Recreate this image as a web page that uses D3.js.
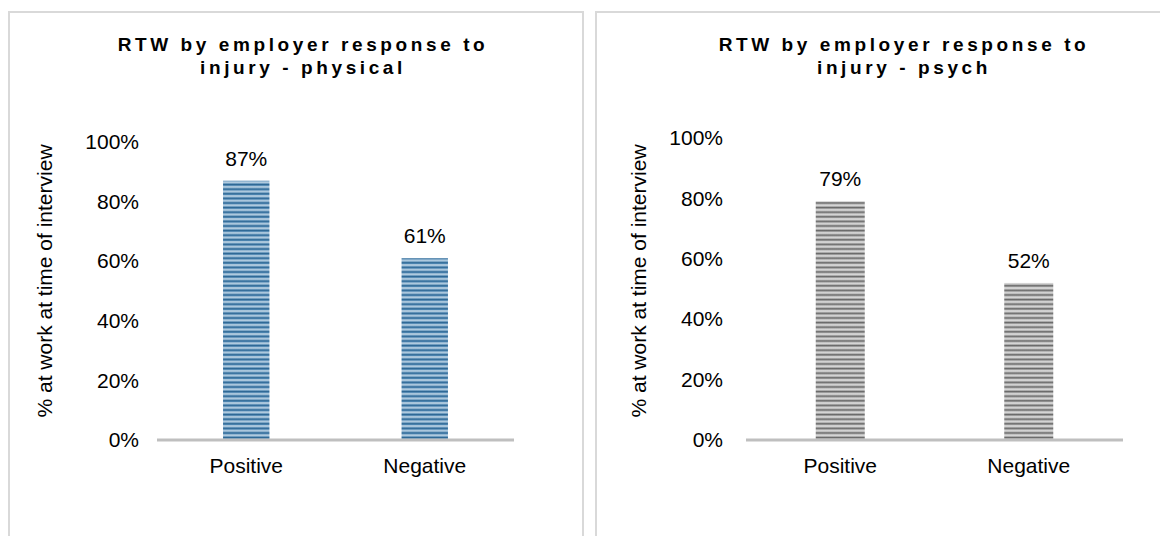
<!DOCTYPE html>
<html>
<head>
<meta charset="utf-8">
<script src="https://cdn.jsdelivr.net/npm/d3@7"></script>
<style>
  html, body { margin: 0; padding: 0; background: #ffffff; }
  svg { display: block; font-family: "Liberation Sans", Arial, sans-serif; }
</style>
</head>
<body>
<svg id="chart" width="1160" height="536"></svg>
<script>
// ---- data ----
const categories = ["Positive", "Negative"];
const physicalValues = [87, 61];
const psychValues = [79, 52];
const yTicks = [0, 20, 40, 60, 80, 100];
const titlePhysical = ["RTW by employer response to", "injury - physical"];
const titlePsych = ["RTW by employer response to", "injury - psych"];
const yAxisTitle = "% at work at time of interview";

const svg = d3.select("#chart");
const defs = svg.append("defs");

function makeStripe(id, dark, mid, light) {
  const gid = id + "Grad";
  const grad = defs.append("linearGradient").attr("id", gid)
    .attr("x1", 0).attr("y1", 0).attr("x2", 0).attr("y2", 1);
  grad.append("stop").attr("offset", "0").attr("stop-color", dark);
  grad.append("stop").attr("offset", "0.3").attr("stop-color", mid);
  grad.append("stop").attr("offset", "0.6").attr("stop-color", light);
  grad.append("stop").attr("offset", "1").attr("stop-color", mid);
  const p = defs.append("pattern").attr("id", id)
    .attr("patternUnits", "userSpaceOnUse").attr("width", 20).attr("height", 4.6);
  p.append("rect").attr("width", 20).attr("height", 4.6).attr("fill", `url(#${gid})`);
}
makeStripe("stripeBlue", "#1f5a87", "#4c84b0", "#d3e3ef");
makeStripe("stripeGray", "#555555", "#939393", "#ececec");

// panels
svg.append("rect").attr("x", 9).attr("y", 12).attr("width", 574).attr("height", 600)
  .attr("fill", "#fff").attr("stroke", "#d9d9d9").attr("stroke-width", 2);
svg.append("rect").attr("x", 596).attr("y", 12).attr("width", 600).attr("height", 600)
  .attr("fill", "#fff").attr("stroke", "#d9d9d9").attr("stroke-width", 2);

function drawChart(o) {
  const g = svg.append("g");
  const x = d3.scaleBand().domain(categories).range([o.x0, o.x1])
    .paddingInner(0.74).paddingOuter(0.37);
  const y = d3.scaleLinear().domain([0, 100]).range([o.yBase, o.yTop]);

  // title
  const t = g.append("text").attr("x", o.titleX).attr("y", 51)
    .attr("text-anchor", "middle").attr("font-weight", "bold")
    .attr("font-size", 19).attr("letter-spacing", "3.6px").attr("fill", "#000");
  o.title.forEach((line, i) => {
    t.append("tspan").attr("x", o.titleX).attr("dy", i === 0 ? 0 : 23).text(line);
  });

  // y axis (labels only)
  const yAxis = d3.axisLeft(y).tickValues(yTicks).tickFormat(d => d + "%").tickSize(0).tickPadding(0);
  const ya = g.append("g").attr("transform", `translate(${o.tickRight},0)`).call(yAxis);
  ya.select(".domain").remove();
  ya.selectAll("text").attr("font-size", 21).attr("fill", "#000")
    .attr("font-family", "Liberation Sans, Arial, sans-serif");

  // y axis title
  g.append("text").attr("transform", `translate(${o.yTitleX},${o.yTitleY}) rotate(-90)`)
    .attr("text-anchor", "middle").attr("dominant-baseline", "middle")
    .attr("font-size", 21).attr("fill", "#000").text(yAxisTitle);

  // bars
  g.selectAll("rect.bar").data(o.values).join("rect").attr("class", "bar")
    .attr("x", (d, i) => x(categories[i])).attr("width", x.bandwidth())
    .attr("y", d => y(d)).attr("height", d => y(0) - y(d))
    .attr("fill", `url(#${o.pattern})`);

  // value labels
  g.selectAll("text.val").data(o.values).join("text").attr("class", "val")
    .attr("x", (d, i) => x(categories[i]) + x.bandwidth() / 2)
    .attr("y", d => y(d) - 15).attr("text-anchor", "middle")
    .attr("font-size", 21).attr("fill", "#000").text(d => d + "%");

  // x axis baseline + labels
  const xAxis = d3.axisBottom(x).tickSize(0).tickPadding(18);
  const xa = g.append("g").attr("transform", `translate(0,${o.yBase})`).call(xAxis);
  xa.select(".domain").attr("stroke", "#bfbfbf").attr("stroke-width", 3)
    .attr("d", `M${o.x0},0H${o.x1}`);
  xa.selectAll("text").attr("font-size", 21).attr("fill", "#000")
    .attr("font-family", "Liberation Sans, Arial, sans-serif");
}

drawChart({ values: physicalValues, title: titlePhysical, pattern: "stripeBlue",
  x0: 157, x1: 514, yBase: 440, yTop: 142, tickRight: 139,
  yTitleX: 46, yTitleY: 281, titleX: 303 });
drawChart({ values: psychValues, title: titlePsych, pattern: "stripeGray",
  x0: 746, x1: 1123, yBase: 440, yTop: 138, tickRight: 723,
  yTitleX: 640, yTitleY: 281, titleX: 904 });
</script>
</body>
</html>
